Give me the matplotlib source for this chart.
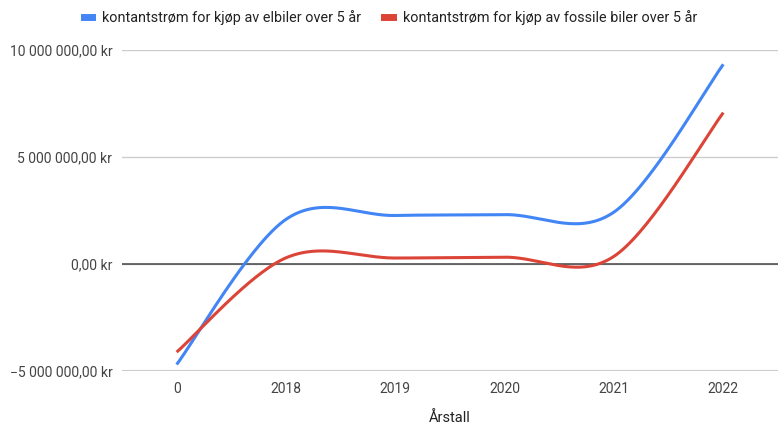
import numpy as np
import matplotlib
matplotlib.use("Agg")
import matplotlib.pyplot as plt
from matplotlib.ticker import FuncFormatter
from matplotlib.lines import Line2D

plt.rcParams['font.family'] = ['Roboto', 'DejaVu Sans']

categories = ["0", "2018", "2019", "2020", "2021", "2022"]
elbil = [-4710000, 2080000, 2260000, 2300000, 2420000, 9330000]
fossil = [-4130000, 280000, 270000, 310000, 350000, 7070000]
series_names = ["kontantstrøm for kjøp av elbiler over 5 år",
                "kontantstrøm for kjøp av fossile biler over 5 år"]
colors = ["#4285f4", "#db4437"]


def smooth(xs, ys, n=60):
    xs = np.asarray(xs, float)
    ys = np.asarray(ys, float)
    px = np.concatenate([[xs[0]], xs, [xs[-1]]])
    py = np.concatenate([[ys[0]], ys, [ys[-1]]])
    s = 1.0 / 6.0
    ox, oy = [], []
    t = np.linspace(0, 1, n)
    for i in range(len(xs) - 1):
        p0x, p0y = px[i + 1], py[i + 1]
        p3x, p3y = px[i + 2], py[i + 2]
        c1x = p0x + s * (px[i + 2] - px[i])
        c1y = p0y + s * (py[i + 2] - py[i])
        c2x = p3x - s * (px[i + 3] - px[i + 1])
        c2y = p3y - s * (py[i + 3] - py[i + 1])
        bx = (1 - t) ** 3 * p0x + 3 * (1 - t) ** 2 * t * c1x + 3 * (1 - t) * t ** 2 * c2x + t ** 3 * p3x
        by = (1 - t) ** 3 * p0y + 3 * (1 - t) ** 2 * t * c1y + 3 * (1 - t) * t ** 2 * c2y + t ** 3 * p3y
        ox.extend(bx)
        oy.extend(by)
    return np.array(ox), np.array(oy)


def fmt(v, pos):
    neg = v < 0
    v = abs(v)
    s = f"{v:,.2f}".replace(",", " ").replace(".", ",")
    return ("\u2212" if neg else "") + s + " kr"


W, H = 781, 430
fig = plt.figure(figsize=(W / 100, H / 100), dpi=100)
left, right, top, bottom = 122, 778, 50, 370.7
ax = fig.add_axes([left / W, 1 - bottom / H, (right - left) / W, (bottom - top) / H])

x = np.arange(len(categories))
for ys, c in zip([elbil, fossil], colors):
    sx, sy = smooth(x, ys)
    ax.plot(sx, sy, color=c, lw=2.2, solid_capstyle='butt', zorder=3)

ax.set_xlim(-0.5, len(categories) - 0.5)
ax.set_ylim(-5e6, 10e6)
ax.set_yticks([-5e6, 0, 5e6, 10e6])
ax.yaxis.set_major_formatter(FuncFormatter(fmt))
ax.set_xticks(x)
ax.set_xticklabels(categories)
for sp in ax.spines.values():
    sp.set_visible(False)
ax.grid(axis='y', color='#cccccc', lw=1, zorder=0)
ax.grid(axis='x', visible=False)
ax.axhline(0, color='#444444', lw=1.1, zorder=2)
ax.axhline(-5e6, color='#cccccc', lw=1.5, zorder=1)
ax.tick_params(axis='both', length=0, labelsize=10, colors='#444444')
ax.tick_params(axis='x', pad=8)
ax.tick_params(axis='y', pad=7)
fig.text((left + right) / 2 / W, 1 - 418 / H, "Årstall", ha='center', va='center',
         fontsize=10.5, color='#222222')

handles = [Line2D([], [], color=c, lw=5) for c in colors]
fig.legend(handles, series_names, loc='center', bbox_to_anchor=(0.5, 1 - 18 / H),
           ncol=2, frameon=False, fontsize=10.4, handlelength=0.6, handletextpad=0.7,
           columnspacing=1.6, labelcolor='#222222')

fig.savefig("out.png", dpi=100, facecolor='white')
